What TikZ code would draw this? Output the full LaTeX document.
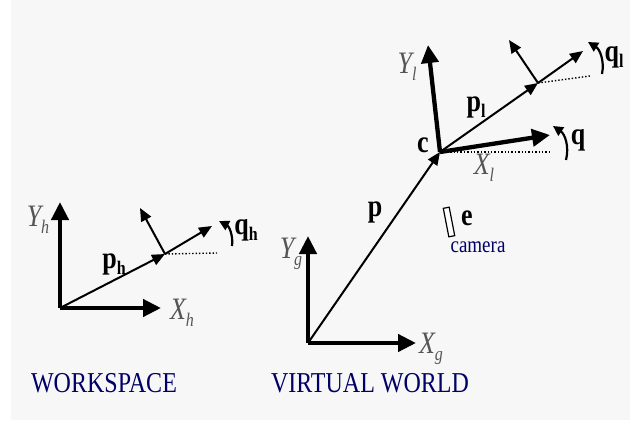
\documentclass[tikz,border=0pt]{standalone}
\usepackage{fontspec}
\usepackage{graphicx}
\setmainfont{Liberation Serif}
\usetikzlibrary{arrows.meta}
\definecolor{bggray}{HTML}{F7F7F7}
\definecolor{navy}{HTML}{000066}
\definecolor{axisgray}{HTML}{555555}
\tikzset{
  axis/.style={line width=4.3pt, -{Triangle[length=18pt,width=17pt]}},
  vec/.style={line width=2pt, -{Triangle[length=13pt,width=11pt]}},
  turn/.style={line width=2.2pt, -{Triangle[length=10pt,width=10pt]}},
  level/.style={line width=1.4pt, dotted},
  axlabel/.style={text=axisgray, font=\fontsize{26}{26}\selectfont\itshape, inner sep=0pt},
  veclabel/.style={font=\fontsize{26}{26}\selectfont\bfseries, inner sep=0pt},
  title/.style={text=navy, font=\fontsize{24}{24}\selectfont, inner sep=0pt}
}
\newcommand{\lowsub}[1]{\raisebox{-0.45ex}{\fontsize{16}{16}\selectfont #1}}
\newcommand{\tall}[1]{\scalebox{1}[1.2]{#1}}
\begin{document}
\begin{tikzpicture}[x=1pt,y=-1pt]
    % Page
    \useasboundingbox (0,0) rectangle (639,420);
    \fill[bggray] (11,0) rectangle (630,420);

    % Workspace frame
    \coordinate (oh) at (60,308);
    \coordinate (yh) at (60,202);
    \coordinate (xh) at (161,308);
    \coordinate (hand) at (165,254);
    \coordinate (hdir) at (212,226);
    \coordinate (hup) at (140,208);
    \coordinate (hlev) at (217,253);
    \coordinate (qhs) at (232,246);
    \coordinate (qhe) at (219,221);
    \draw[axis] (oh) -- (yh);
    \draw[axis] (oh) -- (xh);
    \draw[vec] (oh) -- (hand);
    \draw[vec] (hand) -- (hdir);
    \draw[vec] (hand) -- (hup);
    \draw[level] (hand) -- (hlev);
    \draw[turn] (qhs) to[bend right=35] (qhe);
    \node[axlabel] (lyh) at (38,220) {\tall{Y\lowsub{h}}};
    \node[axlabel] (lxh) at (182,313) {\tall{X\lowsub{h}}};
    \node[veclabel] (lph) at (114,264) {\tall{p\lowsub{h}}};
    \node[veclabel] (lqh) at (246,230) {\tall{q\lowsub{h}}};

    % Virtual world frame
    \coordinate (og) at (308,343);
    \coordinate (yg) at (308,236);
    \coordinate (xg) at (416,343);
    \coordinate (c) at (440,152);
    \coordinate (yl) at (428,45);
    \coordinate (xl) at (550,135);
    \coordinate (clev) at (551,152);
    \coordinate (qs) at (566,160);
    \coordinate (qe) at (553,126);
    \draw[axis] (og) -- (yg);
    \draw[axis] (og) -- (xg);
    \draw[vec] (og) -- (c);
    \draw[axis] (c) -- (yl);
    \draw[axis] (c) -- (xl);
    \draw[level] (c) -- (clev);
    \draw[turn] (qs) to[bend right=35] (qe);
    \node[axlabel] (lyg) at (291,254) {\tall{Y\lowsub{g}}};
    \node[axlabel] (lxg) at (431,349) {\tall{X\lowsub{g}}};
    \node[axlabel] (lyl) at (407,67) {\tall{Y\lowsub{l}}};
    \node[axlabel] (lxl) at (484,168) {\tall{X\lowsub{l}}};
    \node[veclabel] (lp) at (375,212) {\tall{p}};
    \node[veclabel] (lc) at (423,145) {\tall{c}};
    \node[veclabel] (lq) at (578,140) {\tall{q}};

    % Object in the virtual world
    \coordinate (obj) at (538,83);
    \coordinate (odir) at (583,51);
    \coordinate (oup) at (509,40);
    \coordinate (olev) at (590,76);
    \coordinate (qls) at (602,74);
    \coordinate (qle) at (588,42);
    \draw[vec] (c) -- (obj);
    \draw[vec] (obj) -- (odir);
    \draw[vec] (obj) -- (oup);
    \draw[level] (obj) -- (olev);
    \draw[turn] (qls) to[bend right=35] (qle);
    \node[veclabel] (lpl) at (476,107) {\tall{p\lowsub{l}}};
    \node[veclabel] (lql) at (614,57) {\tall{q\lowsub{l}}};

    % Camera
    \node[draw, line width=1.2pt, fill=white, minimum width=6pt, minimum height=29pt, inner sep=0pt, rotate=11] (cam) at (449,222) {};
    \node[veclabel] (le) at (467,218) {\tall{e}};
    \node[text=navy, font=\fontsize{19}{19}\selectfont, inner sep=0pt] (lcam) at (478,247) {\tall{camera}};

    % Titles
    \node[title] (ws) at (104,383) {\tall{WORKSPACE}};
    \node[title] (vw) at (370,383) {\tall{VIRTUAL WORLD}};
\end{tikzpicture}
\end{document}
